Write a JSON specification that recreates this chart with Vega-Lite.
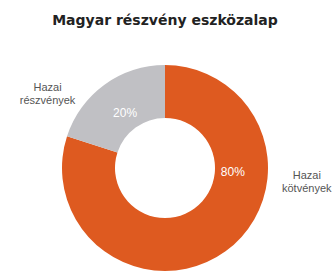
{
  "$schema": "https://vega.github.io/schema/vega-lite/v6.json",
  "autosize": {"type": "none"},
  "width": 330,
  "height": 206,
  "padding": {"left": 0, "top": 65, "right": 4, "bottom": 0},
  "background": "white",
  "title": {
    "text": "Magyar részvény eszközalap",
    "font": "DejaVu Sans",
    "fontSize": 14,
    "fontWeight": "bold",
    "color": "#222222",
    "anchor": "middle",
    "baseline": "alphabetic",
    "offset": 26
  },
  "data": {
    "values": [
      {"kategoria": "Hazai kötvények", "sor1": "Hazai", "sor2": "kötvények", "ertek": 80, "cimke": "80%"},
      {"kategoria": "Hazai részvények", "sor1": "Hazai", "sor2": "részvények", "ertek": 20, "cimke": "20%"}
    ]
  },
  "transform": [{"calculate": "[datum.sor1, datum.sor2]", "as": "nev"}],
  "encoding": {
    "order": {"field": "ertek", "type": "quantitative", "sort": "descending"}
  },
  "layer": [
    {
      "mark": {"type": "arc", "outerRadius": 103, "innerRadius": 50},
      "encoding": {
        "theta": {"field": "ertek", "type": "quantitative", "stack": true},
        "color": {
          "field": "kategoria",
          "type": "nominal",
          "scale": {"domain": ["Hazai kötvények", "Hazai részvények"], "range": ["#de5a20", "#c0c0c4"]},
          "legend": null
        }
      }
    },
    {
      "mark": {"type": "text", "radius": 68, "font": "Liberation Sans", "fontSize": 12, "color": "white", "align": "center", "baseline": "middle"},
      "encoding": {
        "theta": {"field": "ertek", "type": "quantitative", "stack": true, "scale": {"domain": [19.7, 97.8], "zero": false}},
        "text": {"field": "cimke"}
      }
    },
    {
      "mark": {"type": "text", "radius": 142, "font": "Liberation Sans", "fontSize": 11, "color": "#555555", "align": "center", "baseline": "middle", "lineHeight": 13},
      "encoding": {
        "theta": {"field": "ertek", "type": "quantitative", "stack": true, "scale": {"domain": [17.88, 103.23], "zero": false}},
        "text": {"field": "nev"}
      }
    }
  ],
  "resolve": {"scale": {"theta": "independent"}},
  "config": {"view": {"stroke": null}}
}
